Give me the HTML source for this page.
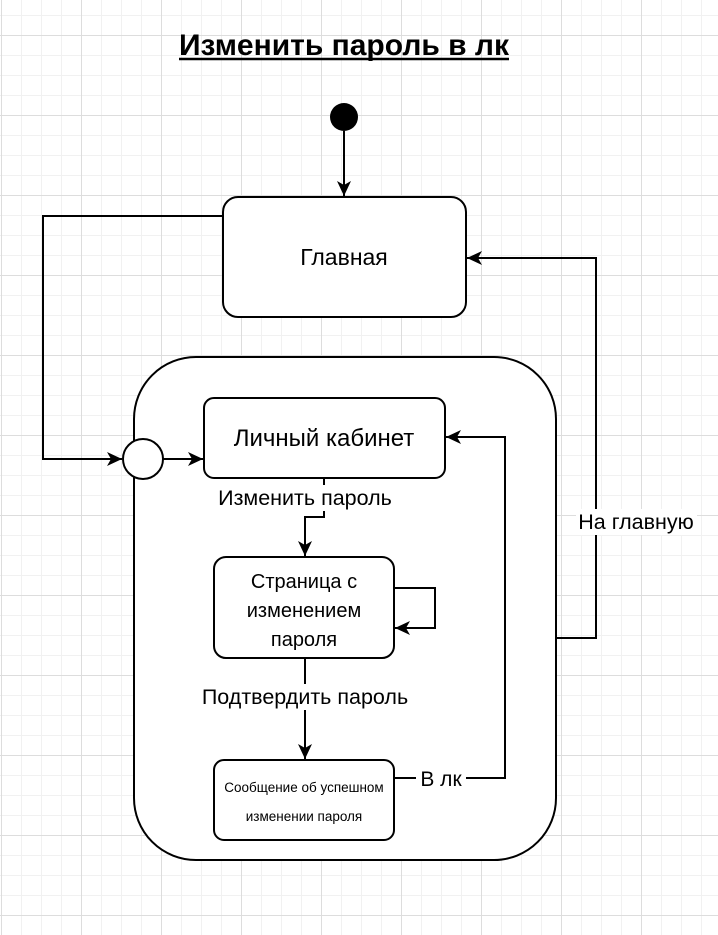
<!DOCTYPE html>
<html><head><meta charset="utf-8"><style>
html,body{margin:0;padding:0;background:#fff}
svg{display:block}
text{font-family:"Liberation Sans",Arial,sans-serif;fill:#000}
</style></head><body>
<svg width="718" height="935" viewBox="0 0 718 935" xmlns="http://www.w3.org/2000/svg">
<defs>
<pattern id="minor" x="1" y="15" width="20" height="20" patternUnits="userSpaceOnUse">
<path d="M0.5 0V20M0 0.5H20" stroke="#f1f1f1" stroke-width="1" fill="none"/>
</pattern>
<pattern id="major" x="1" y="35" width="80" height="80" patternUnits="userSpaceOnUse">
<path d="M0.5 0V80M0 0.5H80" stroke="#dddddd" stroke-width="1" fill="none"/>
</pattern>
<marker id="ar" markerWidth="16" markerHeight="16" refX="15" refY="8" orient="auto" markerUnits="userSpaceOnUse">
<path d="M0 1 L15 8 L0 15 L4 8 Z" fill="#000"/>
</marker>
</defs>
<rect width="718" height="935" fill="#fff"/>
<rect width="718" height="935" fill="url(#minor)"/>
<rect width="718" height="935" fill="url(#major)"/>

<text x="344" y="55" font-size="30" font-weight="bold" text-anchor="middle" textLength="330" lengthAdjust="spacingAndGlyphs">Изменить пароль в лк</text>
<line x1="179" y1="59" x2="509" y2="59" stroke="#000" stroke-width="2.5"/>

<circle cx="344" cy="117" r="14" fill="#000"/>
<line x1="344" y1="131" x2="344" y2="196" stroke="#000" stroke-width="2" marker-end="url(#ar)"/>

<rect x="134" y="357" width="422" height="503" rx="62" fill="#fff" stroke="#000" stroke-width="2"/>

<rect x="223" y="197" width="243" height="120" rx="15" fill="#fff" stroke="#000" stroke-width="2"/>
<text x="344" y="265" font-size="23" text-anchor="middle">Главная</text>

<polyline points="223,216 43,216 43,459 122,459" fill="none" stroke="#000" stroke-width="2" marker-end="url(#ar)"/>
<circle cx="143" cy="459" r="20" fill="#fff" stroke="#000" stroke-width="2"/>
<line x1="163" y1="459" x2="203" y2="459" stroke="#000" stroke-width="2" marker-end="url(#ar)"/>

<rect x="204" y="398" width="241" height="80" rx="10" fill="#fff" stroke="#000" stroke-width="2"/>
<text x="324" y="446" font-size="24" text-anchor="middle">Личный кабинет</text>

<polyline points="324,478 324,517 305,517 305,556" fill="none" stroke="#000" stroke-width="2" marker-end="url(#ar)"/>
<rect x="214" y="485" width="182" height="26" fill="#fff"/>
<text x="305" y="505" font-size="21.5" text-anchor="middle">Изменить пароль</text>

<rect x="214" y="557" width="180" height="101" rx="12" fill="#fff" stroke="#000" stroke-width="2"/>
<text x="304" y="588" font-size="20" text-anchor="middle">Страница с</text>
<text x="304" y="617" font-size="20" text-anchor="middle">изменением</text>
<text x="304" y="646" font-size="20" text-anchor="middle">пароля</text>
<polyline points="394,588 435,588 435,628 395,628" fill="none" stroke="#000" stroke-width="2" marker-end="url(#ar)"/>

<line x1="305" y1="658" x2="305" y2="759" stroke="#000" stroke-width="2" marker-end="url(#ar)"/>
<rect x="196" y="684" width="218" height="26" fill="#fff"/>
<text x="305" y="704" font-size="21.5" text-anchor="middle">Подтвердить пароль</text>

<rect x="214" y="760" width="180" height="80" rx="10" fill="#fff" stroke="#000" stroke-width="2"/>
<text x="304" y="792" font-size="13.5" text-anchor="middle">Сообщение об успешном</text>
<text x="304" y="821" font-size="13.5" text-anchor="middle">изменении пароля</text>

<polyline points="394,778 505,778 505,437 446,437" fill="none" stroke="#000" stroke-width="2" marker-end="url(#ar)"/>
<rect x="416" y="765" width="50" height="26" fill="#fff"/>
<text x="441" y="786" font-size="21" text-anchor="middle">В лк</text>

<polyline points="556,638 596,638 596,258 467,258" fill="none" stroke="#000" stroke-width="2" marker-end="url(#ar)"/>
<rect x="576" y="509" width="121" height="26" fill="#fff"/>
<text x="636" y="529" font-size="21.5" text-anchor="middle">На главную</text>
</svg>
</body></html>
